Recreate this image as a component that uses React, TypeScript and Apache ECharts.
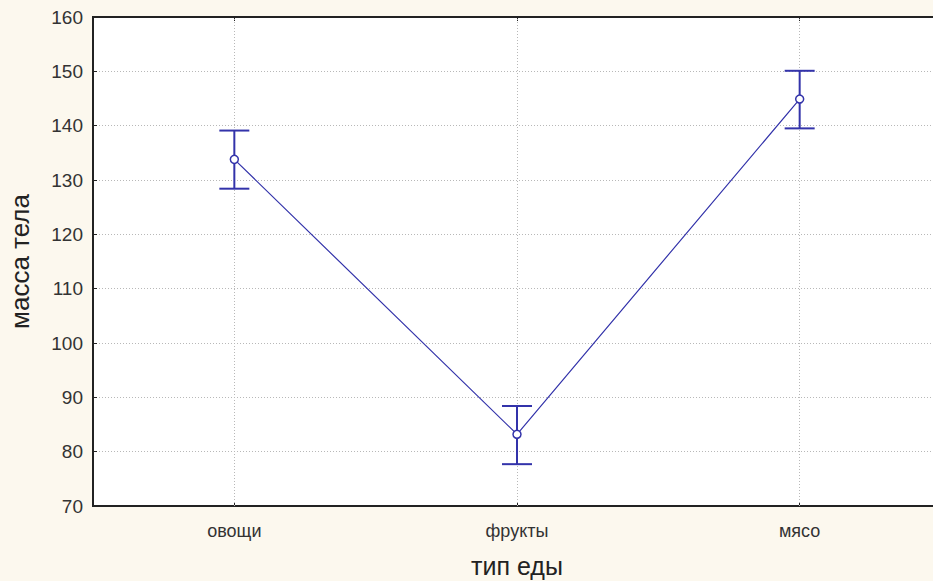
import React, { useEffect, useRef } from "react";
import * as echarts from "echarts";

const categories = ["овощи", "фрукты", "мясо"];
const means = [133.8, 83.2, 144.9];
const lower = [128.4, 77.7, 139.5];
const upper = [139.1, 88.4, 150.1];
const yTicks = { min: 70, max: 160, interval: 10 };

const LINE = "#3333AA";

export default function App() {
  const ref = useRef<HTMLDivElement>(null);
  useEffect(() => {
    if (!ref.current) return;
    const chart = echarts.init(ref.current, undefined, { renderer: "svg" });
    const errData = categories.map((_, i) => [i, lower[i], upper[i]]);
    chart.setOption({
      animation: false,
      backgroundColor: "#FCF8EE",
      textStyle: { fontFamily: "Liberation Sans, Arial, sans-serif" },
      grid: {
        left: 93,
        top: 17,
        bottom: 75,
        right: 0,
        outerBoundsMode: "none",
        containLabel: false,
        show: true,
        backgroundColor: "#ffffff",
        borderColor: "#222",
        borderWidth: 2,
      },
      xAxis: [
        {
          type: "category",
          data: categories,
          position: "bottom",
          boundaryGap: true,
          name: "тип еды",
          nameLocation: "middle",
          nameGap: 47,
          nameTextStyle: { fontSize: 25, color: "#222" },
          axisLine: { show: true, lineStyle: { color: "#222", width: 2 } },
          axisTick: { show: true, inside: true, alignWithLabel: true, length: 4, lineStyle: { color: "#222" } },
          axisLabel: { fontSize: 18, color: "#333", margin: 16 },
          splitLine: { show: false },
        },
        {
          type: "category",
          data: categories,
          position: "top",
          boundaryGap: true,
          axisLine: { show: true, lineStyle: { color: "#222", width: 2 } },
          axisTick: { show: true, inside: true, alignWithLabel: true, length: 4, lineStyle: { color: "#222" } },
          axisLabel: { show: false },
          splitLine: { show: false },
        },
      ],
      yAxis: {
        type: "value",
        min: yTicks.min,
        max: yTicks.max,
        interval: yTicks.interval,
        name: "масса тела",
        nameLocation: "middle",
        nameGap: 60,
        nameTextStyle: { fontSize: 26, color: "#222" },
        axisLine: { show: true, lineStyle: { color: "#222", width: 2 } },
        axisTick: { show: true, inside: true, length: 4, lineStyle: { color: "#222" } },
        axisLabel: { fontSize: 19, color: "#333", margin: 10 },
        splitLine: { show: true, lineStyle: { color: "#b8b8b8", type: [1, 2], width: 1 } },
      },
      series: [
        {
          type: "custom",
          xAxisIndex: 0,
          data: errData,
          z: 2,
          renderItem: (params: any, api: any) => {
            const x = api.value(0);
            const lo = api.coord([x, api.value(1)]);
            const hi = api.coord([x, api.value(2)]);
            const hw = 15;
            const style = { stroke: LINE, lineWidth: 2 };
            return {
              type: "group",
              children: [
                { type: "line", shape: { x1: lo[0], y1: lo[1], x2: hi[0], y2: hi[1] }, style },
                { type: "line", shape: { x1: lo[0] - hw, y1: lo[1], x2: lo[0] + hw, y2: lo[1] }, style },
                { type: "line", shape: { x1: hi[0] - hw, y1: hi[1], x2: hi[0] + hw, y2: hi[1] }, style },
              ],
            };
          },
        },
        {
          type: "line",
          xAxisIndex: 0,
          data: means,
          z: 3,
          lineStyle: { color: LINE, width: 1.2 },
          symbol: "circle",
          symbolSize: 8,
          itemStyle: { color: "#ffffff", borderColor: LINE, borderWidth: 1.5 },
          markLine: {
            silent: true,
            symbol: "none",
            label: { show: false },
            lineStyle: { color: "#b8b8b8", type: [1, 2], width: 1 },
            data: categories.map((c) => ({ xAxis: c })),
            z: 1,
          },
        },
      ],
    });
    return () => chart.dispose();
  }, []);
  return (
    <div style={{ position: "absolute", left: 0, top: 0, width: 933, height: 581, overflow: "hidden" }}>
      <div ref={ref} style={{ width: 941, height: 581 }} />
    </div>
  );
}
